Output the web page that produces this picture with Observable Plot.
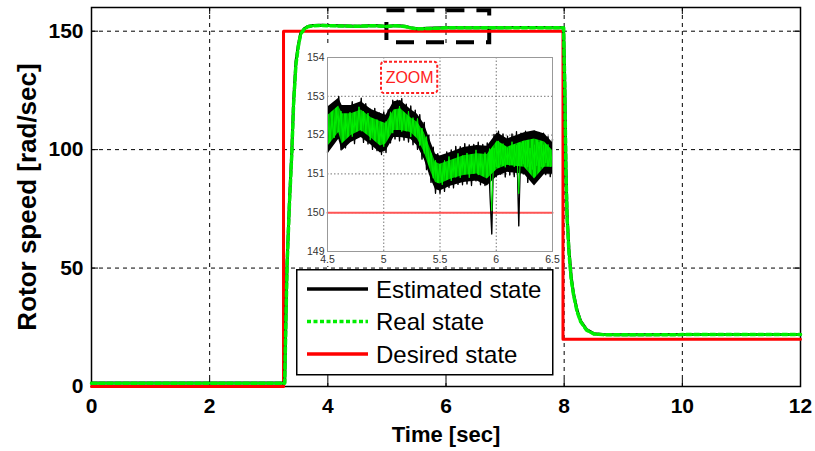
<!DOCTYPE html>
<html>
<head>
<meta charset="utf-8">
<script src="https://cdn.jsdelivr.net/npm/d3@7"></script>
<script src="https://cdn.jsdelivr.net/npm/@observablehq/plot@0.6"></script>
<style>
  html, body { margin: 0; padding: 0; background: #fff; }
  #wrap { position: relative; width: 815px; height: 451px; font-family: "Liberation Sans", Arial, Helvetica, sans-serif; }
  #wrap svg { position: absolute; }
</style>
</head>
<body>
<div id="wrap"></div>
<script>
// ---------- main chart data ----------
const xTicks = [0, 2, 4, 6, 8, 10, 12];
const yTicks = [0, 50, 100, 150];
const xGrid = [2, 4, 6, 8, 10];
const yGrid = [50, 100, 150];

const desiredT = [0, 3.25, 3.25, 7.98, 7.98, 12];
const desiredV = [0, 0, 150, 150, 20, 20];

const estT = [0, 3.27, 3.29, 3.31, 3.35, 3.39, 3.42, 3.46, 3.50, 3.54, 3.60, 3.66, 3.75, 3.90, 4.20, 4.50, 4.80, 5.00, 5.15, 5.30, 5.40, 5.50, 5.80, 6.00, 6.50, 7.00, 7.50, 7.99, 8.01, 8.03, 8.05, 8.08, 8.12, 8.16, 8.22, 8.28, 8.38, 8.50, 8.65, 9.00, 10.0, 11.0, 12.0];
const estV = [1.5, 1.5, 28, 52, 78, 99, 120, 137, 144, 149, 151, 152, 152.4, 152.5, 152.3, 152.1, 152.4, 152.0, 152.4, 152.1, 151.5, 151.0, 151.3, 151.5, 151.4, 151.5, 151.6, 151.5, 128, 92, 72, 58, 46, 39, 32, 27.6, 24, 22.3, 22.0, 21.8, 22.0, 21.9, 22.0];
const realV = [1.4, 1.4, 27, 51, 77, 98, 119, 136, 143.5, 148.8, 150.9, 151.9, 152.3, 152.4, 152.2, 152.1, 152.3, 152.0, 152.3, 152.0, 151.4, 151.0, 151.2, 151.4, 151.4, 151.5, 151.5, 151.5, 127, 91, 71, 57, 45, 38.5, 31.5, 27.3, 23.8, 22.2, 21.9, 21.8, 21.9, 21.9, 21.9];

// zoom indicator (dashed box on the main chart)
const zoomBoxX = [5.0, 6.74];
const zoomBoxY = [145.1, 158.6];

// ---------- inset data ----------
const insetXTicks = [4.5, 5, 5.5, 6, 6.5];
const insetYTicks = [149, 150, 151, 152, 153, 154];
const insetXGrid = [5, 5.5, 6];
const insetYGrid = [150, 151, 152, 153];
const insetDesiredT = [4.5, 6.5];
const insetDesiredV = [150, 150];

const insetT = [4.50,4.52,4.54,4.56,4.58,4.60,4.62,4.64,4.66,4.68,
4.70,4.72,4.74,4.76,4.78,4.80,4.82,4.84,4.86,4.88,
4.90,4.92,4.94,4.96,4.98,5.00,5.02,5.04,5.06,5.08,
5.10,5.12,5.14,5.16,5.18,5.20,5.22,5.24,5.26,5.28,
5.30,5.32,5.34,5.36,5.38,5.40,5.42,5.44,5.46,5.48,
5.50,5.52,5.54,5.56,5.58,5.60,5.62,5.64,5.66,5.68,
5.70,5.72,5.74,5.76,5.78,5.80,5.82,5.84,5.86,5.88,
5.90,5.92,5.94,5.96,5.98,6.00,6.02,6.04,6.06,6.08,
6.10,6.12,6.14,6.16,6.18,6.20,6.22,6.24,6.26,6.28,
6.30,6.32,6.34,6.36,6.38,6.40,6.42,6.44,6.46,6.48,
6.50];

const insetRealV = [152.40,151.91,152.37,151.93,152.64,152.25,152.62,151.90,152.42,152.05,
152.59,151.96,152.43,152.10,152.73,152.10,152.61,152.16,152.57,151.87,
152.38,151.89,152.40,151.77,152.20,151.70,152.35,151.95,152.60,152.05,
152.65,152.25,152.75,152.09,152.57,152.10,152.62,151.95,152.45,151.99,
152.43,151.73,152.18,151.53,151.96,151.25,151.53,150.89,151.35,150.77,
151.25,150.72,151.35,150.87,151.45,150.82,151.34,150.91,151.53,150.90,
151.47,151.03,151.54,150.90,151.45,151.01,151.62,150.97,151.47,150.96,
151.55,151.00,151.65,150.05,151.67,151.18,151.85,151.24,151.78,151.17,
151.67,151.22,151.83,151.18,151.74,150.49,151.80,151.25,151.85,151.18,
151.67,151.11,151.75,151.21,151.82,151.18,151.75,151.28,151.76,151.18,
151.60];

const insetEstV = [151.55,152.71,151.77,152.78,151.94,153.00,151.62,152.65,151.67,152.75,
151.84,152.86,151.78,152.80,151.98,152.95,151.81,152.81,151.77,152.67,
151.63,152.69,151.60,152.57,151.50,152.60,151.55,152.65,151.80,152.90,
151.90,152.90,151.85,152.94,151.87,152.80,151.82,152.75,151.75,152.64,
151.63,152.53,151.38,152.33,151.11,152.00,150.78,151.69,150.50,151.52,
150.50,151.47,150.55,151.57,150.65,151.62,150.64,151.71,150.73,151.70,
150.72,151.78,150.74,151.75,150.70,151.76,150.82,151.82,150.72,151.76,
150.70,151.80,150.75,149.45,152.02,150.93,152.10,150.99,152.03,150.92,
151.97,150.97,152.03,150.93,152.09,149.66,152.05,151.00,152.10,150.78,
152.02,150.86,152.10,150.91,152.07,150.98,152.05,150.98,151.96,150.93,
151.90];

// envelope of the estimated-state band (black) and real-state band (green) in the inset
const envT  = [4.50, 4.60, 4.63, 4.71, 4.80, 4.89, 4.97, 5.02, 5.09, 5.15, 5.24, 5.30, 5.36, 5.42, 5.46, 5.50, 5.60, 5.71, 5.83, 5.92, 6.01, 6.10, 6.25, 6.34, 6.43, 6.50];
const envHi = [152.72, 152.95, 152.76, 152.76, 152.86, 152.66, 152.56, 152.51, 152.86, 152.89, 152.66, 152.54, 152.28, 151.81, 151.51, 151.46, 151.56, 151.68, 151.73, 151.71, 152.06, 151.90, 152.06, 152.11, 152.03, 151.81];
const envLo = [151.50, 151.89, 151.59, 151.81, 151.94, 151.74, 151.54, 151.59, 151.94, 151.94, 151.89, 151.72, 151.38, 150.86, 150.60, 150.56, 150.69, 150.78, 150.82, 150.69, 150.94, 151.04, 150.99, 150.69, 150.99, 150.99];
const greenHi = [152.5, 152.75, 152.55, 152.55, 152.65, 152.45, 152.35, 152.3, 152.65, 152.68, 152.45, 152.33, 152.07, 151.6, 151.3, 151.25, 151.35, 151.47, 151.52, 151.5, 151.85, 151.69, 151.85, 151.9, 151.82, 151.6];
const greenLo = [151.7, 152.07, 151.77, 151.99, 152.12, 151.92, 151.72, 151.77, 152.12, 152.12, 152.07, 151.9, 151.56, 151.04, 150.78, 150.74, 150.87, 150.96, 151.0, 150.87, 151.12, 151.22, 151.17, 150.87, 151.17, 151.17];

// zoom label inside the inset
const zoomLabel = "ZOOM";
const zoomLabelBoxX = [4.98, 5.48];
const zoomLabelBoxY = [153.07, 153.88];

// legend
const legendNames = ["Estimated state", "Real state", "Desired state"];
const legendColors = ["#000000", "#00ee00", "#ff0000"];
const legendDash = [null, "4,2.5", null];

// axis titles
const xTitle = "Time [sec]";
const yTitle = "Rotor speed [rad/sec]";

// ---------- build tables ----------
const desired = desiredT.map((t, i) => ({t, v: desiredV[i]}));
const est = estT.map((t, i) => ({t, v: estV[i]}));
const real = estT.map((t, i) => ({t, v: realV[i]}));
const iDes = insetDesiredT.map((t, i) => ({t, v: insetDesiredV[i]}));
const iEst = insetT.map((t, i) => ({t, v: insetEstV[i]}));
const iReal = insetT.map((t, i) => ({t, v: insetRealV[i]}));
const env = envT.map((t, i) => ({t, lo: envLo[i], hi: envHi[i], glo: greenLo[i], ghi: greenHi[i]}));

const FONT = "Liberation Sans, Arial, Helvetica, sans-serif";
const GREEN = "#00ee00";

const main = Plot.plot({
  width: 815, height: 451,
  marginLeft: 91, marginRight: 15, marginTop: 7, marginBottom: 65,
  x: {domain: [0, 12]},
  y: {domain: [0, 160]},
  style: {fontFamily: FONT, background: "#fff", color: "#000"},
  marks: [
    Plot.gridX(xGrid, {stroke: "#000", strokeOpacity: 1, strokeWidth: 1, strokeDasharray: "4,4"}),
    Plot.gridY(yGrid, {stroke: "#000", strokeOpacity: 1, strokeWidth: 1, strokeDasharray: "4,4"}),
    Plot.frame({stroke: "#000", strokeWidth: 1.5}),
    Plot.ruleX(xTicks, {y1: 0, y2: 3, stroke: "#000"}),
    Plot.ruleX(xTicks, {y1: 157, y2: 160, stroke: "#000"}),
    Plot.ruleY(yTicks, {x1: 0, x2: 0.12, stroke: "#000"}),
    Plot.ruleY(yTicks, {x1: 11.88, x2: 12, stroke: "#000"}),
    Plot.rect([0], {x1: () => zoomBoxX[0], x2: () => zoomBoxX[1], y1: () => zoomBoxY[0], y2: () => zoomBoxY[1],
      fill: "none", stroke: "#000", strokeWidth: 4, strokeDasharray: "18,12"}),
    Plot.line(desired, {x: "t", y: "v", stroke: "#ff0000", strokeWidth: 3}),
    Plot.line(est, {x: "t", y: "v", stroke: "#000", strokeWidth: 3}),
    Plot.line(real, {x: "t", y: "v", stroke: GREEN, strokeWidth: 3.5, strokeDasharray: "5,3"}),
    Plot.axisX(xTicks, {tickSize: 0, tickPadding: 12, fontSize: 21, fontWeight: "bold", label: null}),
    Plot.axisY(yTicks, {tickSize: 0, tickPadding: 8, fontSize: 21, fontWeight: "bold", label: null}),
    Plot.text([xTitle], {text: d => d, frameAnchor: "bottom", dy: 55, fontSize: 22, fontWeight: "bold"}),
    Plot.text([yTitle], {text: d => d, frameAnchor: "left", textAnchor: "middle", lineAnchor: "middle", dx: -64, rotate: -90, fontSize: 26, fontWeight: "bold"})
  ]
});
main.style.left = "0px"; main.style.top = "0px";
document.getElementById("wrap").appendChild(main);

const inset = Plot.plot({
  width: 253, height: 220,
  marginLeft: 24, marginRight: 4, marginTop: 11, marginBottom: 15,
  x: {domain: [4.5, 6.5]},
  y: {domain: [149, 154]},
  style: {fontFamily: FONT, background: "#fff", color: "#333", overflow: "visible"},
  marks: [
    Plot.gridX(insetXGrid, {stroke: "#777", strokeOpacity: 1, strokeDasharray: "1.5,2"}),
    Plot.gridY(insetYGrid, {stroke: "#777", strokeOpacity: 1, strokeDasharray: "1.5,2"}),
    Plot.line(iDes, {x: "t", y: "v", stroke: "#ff5555", strokeWidth: 2}),
    Plot.areaY(env, {x: "t", y1: "lo", y2: "hi", fill: "#000"}),
    Plot.line(iEst, {x: "t", y: "v", stroke: "#000", strokeWidth: 1.3}),
    Plot.areaY(env, {x: "t", y1: "glo", y2: "ghi", fill: GREEN}),
    Plot.line(iEst, {x: "t", y: "v", stroke: "#000", strokeWidth: 0.5, strokeOpacity: 0.5}),
    Plot.line(iReal, {x: "t", y: "v", stroke: GREEN, strokeWidth: 1}),
    Plot.rect([0], {x1: () => zoomLabelBoxX[0], x2: () => zoomLabelBoxX[1], y1: () => zoomLabelBoxY[0], y2: () => zoomLabelBoxY[1],
      fill: "#fff", stroke: "#ff2020", strokeWidth: 2, strokeDasharray: "3,2", rx: 3}),
    Plot.text([zoomLabel], {text: d => d, x: () => (zoomLabelBoxX[0] + zoomLabelBoxX[1]) / 2, y: () => (zoomLabelBoxY[0] + zoomLabelBoxY[1]) / 2,
      fill: "#ff2020", fontSize: 16}),
    Plot.frame({stroke: "#999"}),
    Plot.axisX(insetXTicks, {tickSize: 0, tickPadding: 4, fontSize: 10.5, label: null, fill: "#333", tickFormat: d => String(d)}),
    Plot.axisY(insetYTicks, {tickSize: 0, tickPadding: 3, fontSize: 10.5, label: null, fill: "#333", tickFormat: d => String(d)})
  ]
});
inset.style.left = "303px"; inset.style.top = "46px"; inset.style.overflow = "visible";
document.getElementById("wrap").appendChild(inset);

// legend box
const lg = d3.create("svg").attr("width", 258).attr("height", 107)
  .style("left", "296px").style("top", "269px").style("position", "absolute");
lg.append("rect").attr("x", 0.75).attr("y", 0.75).attr("width", 256).attr("height", 105)
  .attr("fill", "#fff").attr("stroke", "#000").attr("stroke-width", 1.5);
legendNames.forEach((n, i) => {
  const cy = 20 + i * 32.5;
  lg.append("line").attr("x1", 11).attr("x2", 72).attr("y1", cy).attr("y2", cy)
    .attr("stroke", legendColors[i]).attr("stroke-width", 3.5)
    .attr("stroke-dasharray", legendDash[i]);
  lg.append("text").attr("x", 80).attr("y", cy).attr("dy", "0.36em")
    .attr("font-family", FONT).attr("font-size", 24).attr("fill", "#000").text(n);
});
document.getElementById("wrap").appendChild(lg.node());
</script>
</body>
</html>
